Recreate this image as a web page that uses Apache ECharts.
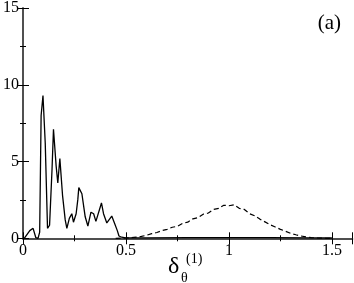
<!DOCTYPE html>
<html>
<head>
<meta charset="utf-8">
<script src="https://cdn.jsdelivr.net/npm/echarts@6/dist/echarts.min.js"></script>
<style>
html,body{margin:0;padding:0;background:#fff;}
#c{width:354px;height:283px;}
</style>
</head>
<body>
<div id="c"></div>
<script>
// Solid curve (x, y)
var solidX = [0.006,0.033,0.049,0.062,0.073,0.081,0.088,0.097,0.108,0.119,0.129,0.141,0.148,0.161,0.169,0.179,0.192,0.205,0.213,0.225,0.237,0.245,0.258,0.266,0.271,0.286,0.302,0.315,0.330,0.343,0.354,0.381,0.391,0.407,0.431,0.444,0.458,0.466,0.479,0.498,0.6,0.8,1.0,1.2,1.4,1.5];
var solidY = [0,0.5,0.65,0.05,0,0.4,8.0,9.3,6.2,0.65,0.85,4.5,7.1,4.7,3.6,5.2,2.8,1.2,0.65,1.3,1.6,1.05,1.6,2.5,3.3,2.9,1.4,0.8,1.7,1.6,1.1,2.3,1.6,1.0,1.45,1.0,0.5,0.15,0.07,0.03,0.03,0.04,0.05,0.04,0.03,0.02];
// Dashed curve (x, y)
var dashX = [0.45,0.475,0.5,0.525,0.55,0.575,0.6,0.625,0.65,0.675,0.7,0.725,0.75,0.775,0.8,0.825,0.85,0.875,0.9,0.925,0.95,0.975,1.0,1.025,1.05,1.075,1.1,1.125,1.15,1.175,1.2,1.225,1.25,1.275,1.3,1.325,1.35,1.375,1.4,1.425,1.45,1.475,1.5];
var dashY = [0,0.01,0.02,0.04,0.08,0.12,0.2,0.3,0.38,0.5,0.58,0.72,0.78,0.97,1.05,1.27,1.35,1.57,1.65,1.88,1.95,2.15,2.12,2.18,1.95,1.88,1.6,1.47,1.25,1.07,0.88,0.74,0.58,0.46,0.32,0.23,0.15,0.09,0.05,0.02,0.01,0,0];
var xTicks = ['0','0.5','1','1.5'];
var yTicks = ['0','5','10','15'];

function pairs(xs, ys){ return xs.map(function(x,i){return [x, ys[i]];}); }

var frame = {lineStyle:{color:'#444', width:1.5}};
var font = {fontFamily:'Liberation Serif', fontSize:16, color:'#000'};
var chart = echarts.init(document.getElementById('c'), null, {renderer:'canvas'});
chart.setOption({
  animation:false,
  backgroundColor:'#fff',
  grid:{left:20.5, right:1.5, top:7, bottom:44.7, containLabel:false},
  title:{text:'(a)', right:8, top:8, textStyle:{fontFamily:'Liberation Serif', fontSize:21, fontWeight:'normal', color:'#000'}},
  xAxis:[{
    type:'value', min:0, max:1.6, interval:0.5, position:'bottom',
    axisLine:frame,
    axisTick:{inside:true, length:6, lineStyle:{color:'#000'}},
    minorTick:{show:true, splitNumber:2, length:3, lineStyle:{color:'#000'}},
    splitLine:{show:false},
    axisLabel:Object.assign({margin:4, showMaxLabel:false, formatter:function(v){var i=Math.round(v/0.5);return (Math.abs(v-i*0.5)<1e-6 && i<xTicks.length)?xTicks[i]:'';}}, font)
  },{
    type:'value', min:0, max:1.6, interval:0.5, position:'top',
    axisLine:frame,
    axisTick:{inside:true, length:6, lineStyle:{color:'#000'}},
    minorTick:{show:true, splitNumber:2, length:3, lineStyle:{color:'#000'}},
    splitLine:{show:false}, axisLabel:{show:false}
  }],
  yAxis:[{
    type:'value', min:0, max:15, interval:5, position:'left',
    axisLine:frame,
    axisTick:{inside:true, length:6, lineStyle:{color:'#000'}},
    minorTick:{show:true, splitNumber:2, length:3, lineStyle:{color:'#000'}},
    splitLine:{show:false},
    axisLabel:Object.assign({margin:4, formatter:function(v){var i=Math.round(v/5);return yTicks[i]||'';}}, font)
  },{
    type:'value', min:0, max:15, interval:5, position:'right',
    axisLine:frame,
    axisTick:{inside:true, length:6, lineStyle:{color:'#000'}},
    minorTick:{show:true, splitNumber:2, length:3, lineStyle:{color:'#000'}},
    splitLine:{show:false}, axisLabel:{show:false}
  }],
  graphic:[
    {type:'text', left:168, top:255, style:{text:'δ', font:'24px "Liberation Serif"', fill:'#000'}},
    {type:'text', left:181, top:271, style:{text:'θ', font:'14px "Liberation Serif"', fill:'#000'}},
    {type:'text', left:186, top:252, style:{text:'(1)', font:'14px "Liberation Serif"', fill:'#000'}}
  ],
  series:[
    {type:'line', data:pairs(solidX, solidY), showSymbol:false, symbol:'none', lineStyle:{color:'#000', width:1.3}, z:3},
    {type:'line', data:pairs(dashX, dashY), showSymbol:false, symbol:'none', lineStyle:{color:'#000', width:1.2, type:[5,3]}, z:3}
  ]
});
</script>
</body>
</html>
